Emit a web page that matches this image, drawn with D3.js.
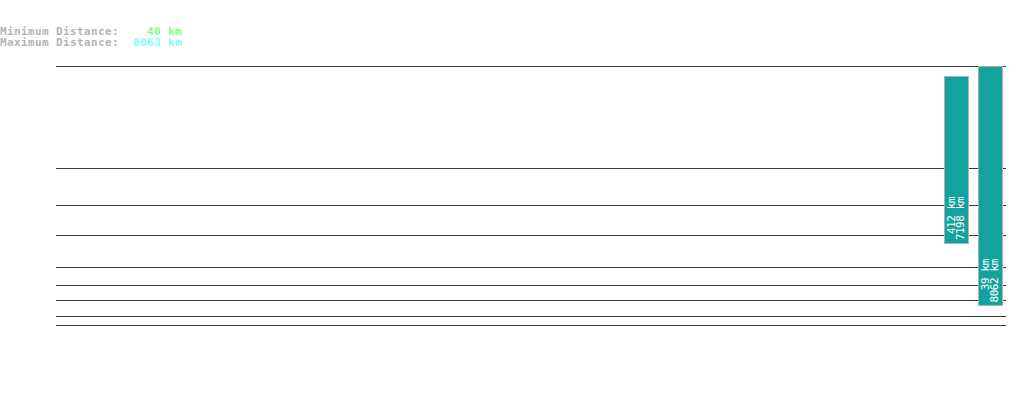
<!DOCTYPE html>
<html>
<head>
<meta charset="utf-8">
<script src="https://cdn.jsdelivr.net/npm/d3@7"></script>
<style>
  body { margin: 0; background: #fff; }
  text { white-space: pre; }
</style>
</head>
<body>
<svg width="1019" height="402"></svg>
<script>
// summary figures shown in the header
const summaryLabels = ["Minimum Distance:", "Maximum Distance:"];
const summaryValues = [40, 8063];

// slots along the x axis, only the last two hold a route
const slots = d3.range(28);
const barSlots = [26, 27];
const barMin = [412, 39];
const barMax = [7198, 8062];

// horizontal reference lines (km)
const gridValues = [10, 20, 50, 100, 200, 500, 1000, 2000, 8063];

const svg = d3.select("svg");
const plotLeft = 56, plotRight = 1006, plotTop = 66, plotBottom = 365.6;

const x = d3.scaleBand().domain(slots).range([plotLeft, plotRight])
  .paddingInner(0.28).paddingOuter(0.1);
const y = d3.scalePow().exponent(0.3).domain([0, 8063]).range([plotBottom, plotTop]);

// header
const header = svg.append("g")
  .style("font-family", "'DejaVu Sans Mono', monospace")
  .style("font-weight", "bold")
  .style("font-size", "11px")
  .style("letter-spacing", "0.38px");
const valueColors = ["#80ff80", "#80ffff"];
summaryLabels.forEach((label, i) => {
  const t = header.append("text").attr("x", 0).attr("y", 34.5 + i * 11.5);
  t.append("tspan").attr("fill", "#b4b4b4").text(label);
  t.append("tspan").attr("fill", valueColors[i])
    .text((summaryValues[i] + " km").padStart(9, " "));
});

// grid lines
svg.append("g")
  .selectAll("line")
  .data(gridValues)
  .enter()
  .append("line")
  .attr("x1", plotLeft)
  .attr("x2", plotRight)
  .attr("y1", (d) => Math.round(y(d)) + 0.5)
  .attr("y2", (d) => Math.round(y(d)) + 0.5)
  .attr("stroke", "#3a3a3a")
  .attr("stroke-width", 1);

const bars = barSlots.map((s, i) => ({ slot: s, min: barMin[i], max: barMax[i] }));

svg.append("g")
  .selectAll("rect")
  .data(bars)
  .enter()
  .append("rect")
  .attr("x", (d) => Math.round(x(d.slot)) + 0.5)
  .attr("width", Math.round(x.bandwidth()))
  .attr("y", (d) => Math.round(y(d.max)) + 0.5)
  .attr("height", (d) => Math.round(y(d.min)) - Math.round(y(d.max)))
  .attr("fill", "#13a29e")
  .attr("stroke", "#b0b0b0")
  .attr("stroke-width", 1);

// rotated labels: min and max, padded so both end together
const labels = svg.append("g")
  .selectAll("g")
  .data(bars)
  .enter()
  .append("g")
  .attr("transform", (d) =>
    "translate(" + (x(d.slot) + x.bandwidth() / 2) + "," + (y(d.min) - 2.5) + ") rotate(-90)")
  .style("font-family", "'DejaVu Sans Mono', monospace")
  .style("font-size", "11px")
  .style("letter-spacing", "-0.4px")
  .attr("fill", "#fff");

labels.append("text")
  .attr("x", 0)
  .attr("y", -1.6)
  .text((d) => (d.min + " km").padStart(7, " "));
labels.append("text")
  .attr("x", 0)
  .attr("y", 8)
  .text((d) => (d.max + " km").padStart(7, " "));
</script>
</body>
</html>
